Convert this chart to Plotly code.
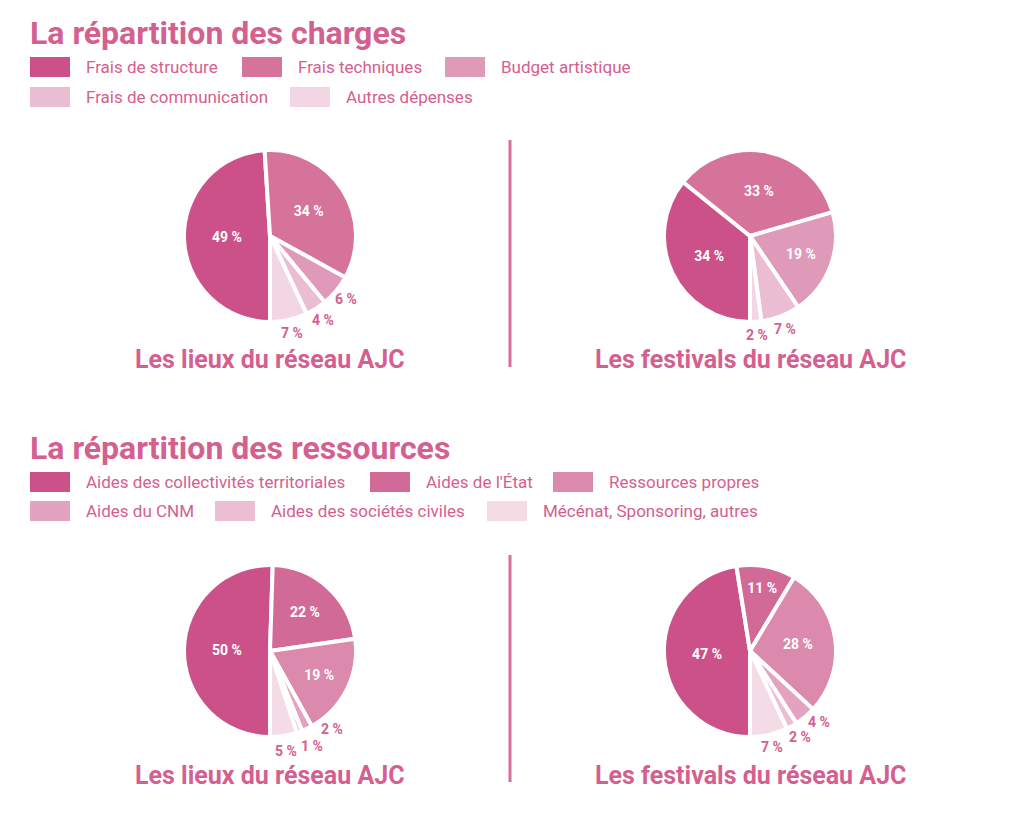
import math
import plotly.graph_objects as go

# ---------------- data ----------------
charges_labels = ["Frais de structure", "Frais techniques", "Budget artistique",
                  "Frais de communication", "Autres dépenses"]
charges_lieux = [49, 34, 6, 4, 7]
charges_festivals = [34, 33, 19, 7, 2]
charges_colors = ["#cc5189", "#d5739b", "#e09ab9", "#ebbdd2", "#f3d6e3"]

ressources_labels = ["Aides des collectivités territoriales", "Aides de l'État",
                     "Ressources propres", "Aides du CNM",
                     "Aides des sociétés civiles", "Mécénat, Sponsoring, autres"]
ressources_lieux = [50, 22, 19, 2, 1, 5]
ressources_festivals = [47, 11, 28, 4, 2, 7]
ressources_colors = ["#cc5189", "#d26a97", "#db89ad", "#e3a3c0", "#ecbed3", "#f4dce7"]

subtitle_lieux = "Les lieux du réseau AJC"
subtitle_festivals = "Les festivals du réseau AJC"
title_charges = "La répartition des charges"
title_ressources = "La répartition des ressources"

# ---------------- layout helpers ----------------
OFF = 8                       # page body margin
W, H = 1024 - 2 * OFF, 828 - 2 * OFF
PINK = "#d4608f"
FONT_B = "Roboto"
ROT = 180                     # first slice starts at 6 o'clock
R = 86                        # pie radius in px

fig = go.Figure()
annotations = []
shapes = []


def px_x(x):
    return (x - OFF) / W


def px_y(y):
    return 1 - (y - OFF) / H


def text_at(x, y, txt, size, bold=False, xanchor="left", color=PINK):
    annotations.append(dict(
        x=px_x(x), y=px_y(y), xref="paper", yref="paper", text=txt,
        showarrow=False, xanchor=xanchor, yanchor="middle",
        font=dict(family=FONT_B, size=size, color=color,
                  weight="bold" if bold else "normal"),
    ))


def add_pie(values, labels, colors, cx, cy, nudges=None):
    nudges = nudges or {}
    positions = ["inside" if v >= 10 else "none" for v in values]
    fig.add_trace(go.Pie(
        values=values,
        labels=labels,
        text=[f"{v} %" for v in values],
        textinfo="text",
        textposition=positions,
        insidetextorientation="horizontal",
        insidetextfont=dict(color="white", size=14, family=FONT_B, weight="bold"),
        marker=dict(colors=colors, line=dict(color="white", width=4)),
        sort=False,
        direction="clockwise",
        rotation=ROT,
        showlegend=False,
        hoverinfo="label+text",
        domain=dict(x=[px_x(cx - R), px_x(cx + R)],
                    y=[px_y(cy + R), px_y(cy - R)]),
    ))
    # outside labels for the small slices, placed at each slice's mid-angle
    total = sum(values)
    cum = 0
    for i, v in enumerate(values):
        if v < 10:
            dang, dr = nudges.get(i, (0, 0))
            ang = math.radians(ROT + 360 * (cum + v / 2) / total + dang)
            rr = R + 13 + dr
            text_at(cx + rr * math.sin(ang), cy - rr * math.cos(ang),
                    f"{v} %", 14, bold=True, xanchor="center")
        cum += v


add_pie(charges_lieux, charges_labels, charges_colors, 270, 236)
add_pie(charges_festivals, charges_labels, charges_colors, 750, 236)
add_pie(ressources_lieux, ressources_labels, ressources_colors, 270, 651,
        nudges={3: (-13, 0), 4: (-4, 5), 5: (0, 2)})
add_pie(ressources_festivals, ressources_labels, ressources_colors, 750, 651,
        nudges={3: (-4, 0), 4: (-1, 0), 5: (0, -1)})


def swatch(x, y, color):
    shapes.append(dict(type="rect", xref="paper", yref="paper",
                       x0=px_x(x), x1=px_x(x + 40), y0=px_y(y + 10), y1=px_y(y - 10),
                       fillcolor=color, line=dict(width=0)))


# titles
text_at(28, 33, title_charges, 32, bold=True)
text_at(28, 448, title_ressources, 32, bold=True)

# charges legend
leg_charges = [(30, 67), (242, 67), (445, 67), (30, 97), (290, 97)]
for (x, y), lab, col in zip(leg_charges, charges_labels, charges_colors):
    swatch(x, y, col)
    text_at(x + 54, y, lab, 17)

# ressources legend
leg_res = [(30, 482), (370, 482), (553, 482), (30, 511), (215, 511), (487, 511)]
for (x, y), lab, col in zip(leg_res, ressources_labels, ressources_colors):
    swatch(x, y, col)
    text_at(x + 54, y, lab, 17)

# subtitles
text_at(270, 359, subtitle_lieux, 25, bold=True, xanchor="center")
text_at(750, 359, subtitle_festivals, 25, bold=True, xanchor="center")
text_at(270, 775, subtitle_lieux, 25, bold=True, xanchor="center")
text_at(750, 775, subtitle_festivals, 25, bold=True, xanchor="center")

# separators
for y0, y1 in [(140, 367), (555, 782)]:
    shapes.append(dict(type="line", xref="paper", yref="paper",
                       x0=px_x(510), x1=px_x(510), y0=px_y(y0), y1=px_y(y1),
                       line=dict(color="#d4709a", width=3)))

fig.update_layout(
    width=W, height=H,
    margin=dict(l=0, r=0, t=0, b=0),
    paper_bgcolor="white", plot_bgcolor="white",
    annotations=annotations, shapes=shapes,
    font=dict(family=FONT_B),
)

fig.write_html("out.html")
